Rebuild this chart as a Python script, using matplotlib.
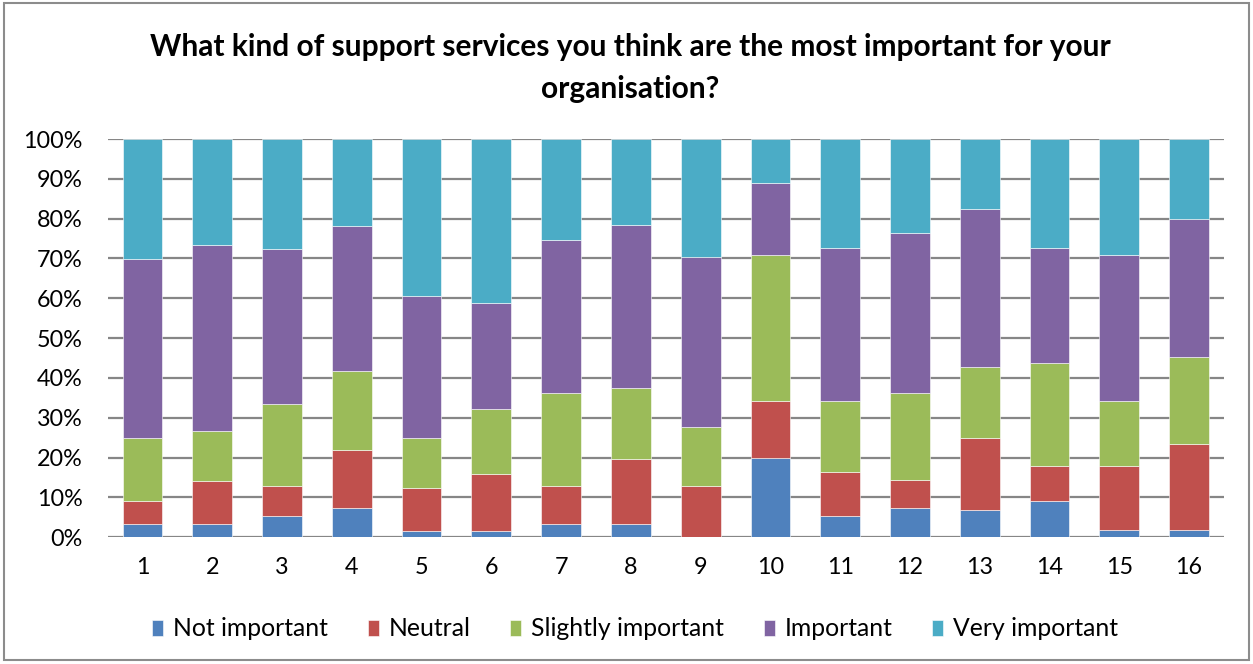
import matplotlib
matplotlib.use("Agg")
import matplotlib.pyplot as plt
from matplotlib.patches import Rectangle
from matplotlib.ticker import PercentFormatter
import numpy as np

plt.rcParams['font.family'] = ['Lato', 'DejaVu Sans']

categories = [str(i) for i in range(1, 17)]
series_names = ["Not important", "Neutral", "Slightly important", "Important", "Very important"]
colors = ["#4F81BD", "#C0504D", "#9BBB59", "#8064A2", "#4BACC6"]

# Cumulative boundaries (%) for each category
not_important_top = [3.4, 3.4, 5.4, 7.3, 1.5, 1.5, 3.4, 3.4, 0.0, 19.8, 5.4, 7.3, 6.9, 9.0, 1.8, 1.8]
neutral_top       = [9.0, 14.1, 12.8, 21.8, 12.5, 16.0, 12.8, 19.6, 12.8, 34.3, 16.3, 14.4, 25.0, 17.9, 17.9, 23.4]
slightly_top      = [25.0, 26.6, 33.4, 41.8, 25.0, 32.1, 36.2, 37.6, 27.6, 71.0, 34.3, 36.2, 42.7, 43.7, 34.3, 45.3]
important_top     = [69.8, 73.3, 72.3, 78.1, 60.7, 58.8, 74.6, 78.4, 70.4, 89.0, 72.6, 76.5, 82.3, 72.6, 71.0, 80.0]

tops = np.array([not_important_top, neutral_top, slightly_top, important_top,
                 [100.0] * len(categories)])
bottoms = np.vstack([np.zeros(len(categories)), tops[:-1]])
heights = tops - bottoms

fig = plt.figure(figsize=(12.53, 6.64), dpi=100)
fig.patches.append(Rectangle((4 / 1253, 4 / 664), 1245 / 1253, 657 / 664,
                             transform=fig.transFigure, fill=False,
                             edgecolor="#8C8C8C", linewidth=1.5))

ax = fig.add_axes([107.6 / 1253, 1 - 537.3 / 664, (1224 - 107.6) / 1253, (537.3 - 139) / 664])
x = np.arange(len(categories))
for name, col, h, b in zip(series_names, colors, heights, bottoms):
    ax.bar(x, h, bottom=b, width=0.57, color=col, label=name,
           edgecolor="white", linewidth=0.4, zorder=3)

ax.set_xlim(-0.5, len(categories) - 0.5)
ax.set_ylim(0, 100)
ax.set_yticks(np.arange(0, 101, 10))
ax.yaxis.set_major_formatter(PercentFormatter(decimals=0))
ax.set_xticks(x)
ax.set_xticklabels(categories)
ax.grid(axis="y", color="#868686", linewidth=1.6, zorder=0)
for s in ax.spines.values():
    s.set_visible(False)
ax.tick_params(axis="both", length=0, labelsize=16.8, colors="black")
ax.tick_params(axis="y", pad=18)
ax.tick_params(axis="x", pad=14)

fig.text(0.503, 1 - 68 / 664,
         "What kind of support services you think are the most important for your\norganisation?",
         ha="center", va="center", fontsize=21.5, fontweight="bold", linespacing=1.6)

fig.legend(loc="center", bbox_to_anchor=(0.507, 1 - 629 / 664), ncol=5,
           frameon=False, fontsize=17.8, handlelength=0.45, handleheight=0.6,
           handletextpad=0.4, columnspacing=1.6)

fig.savefig("out.png", dpi=100)
